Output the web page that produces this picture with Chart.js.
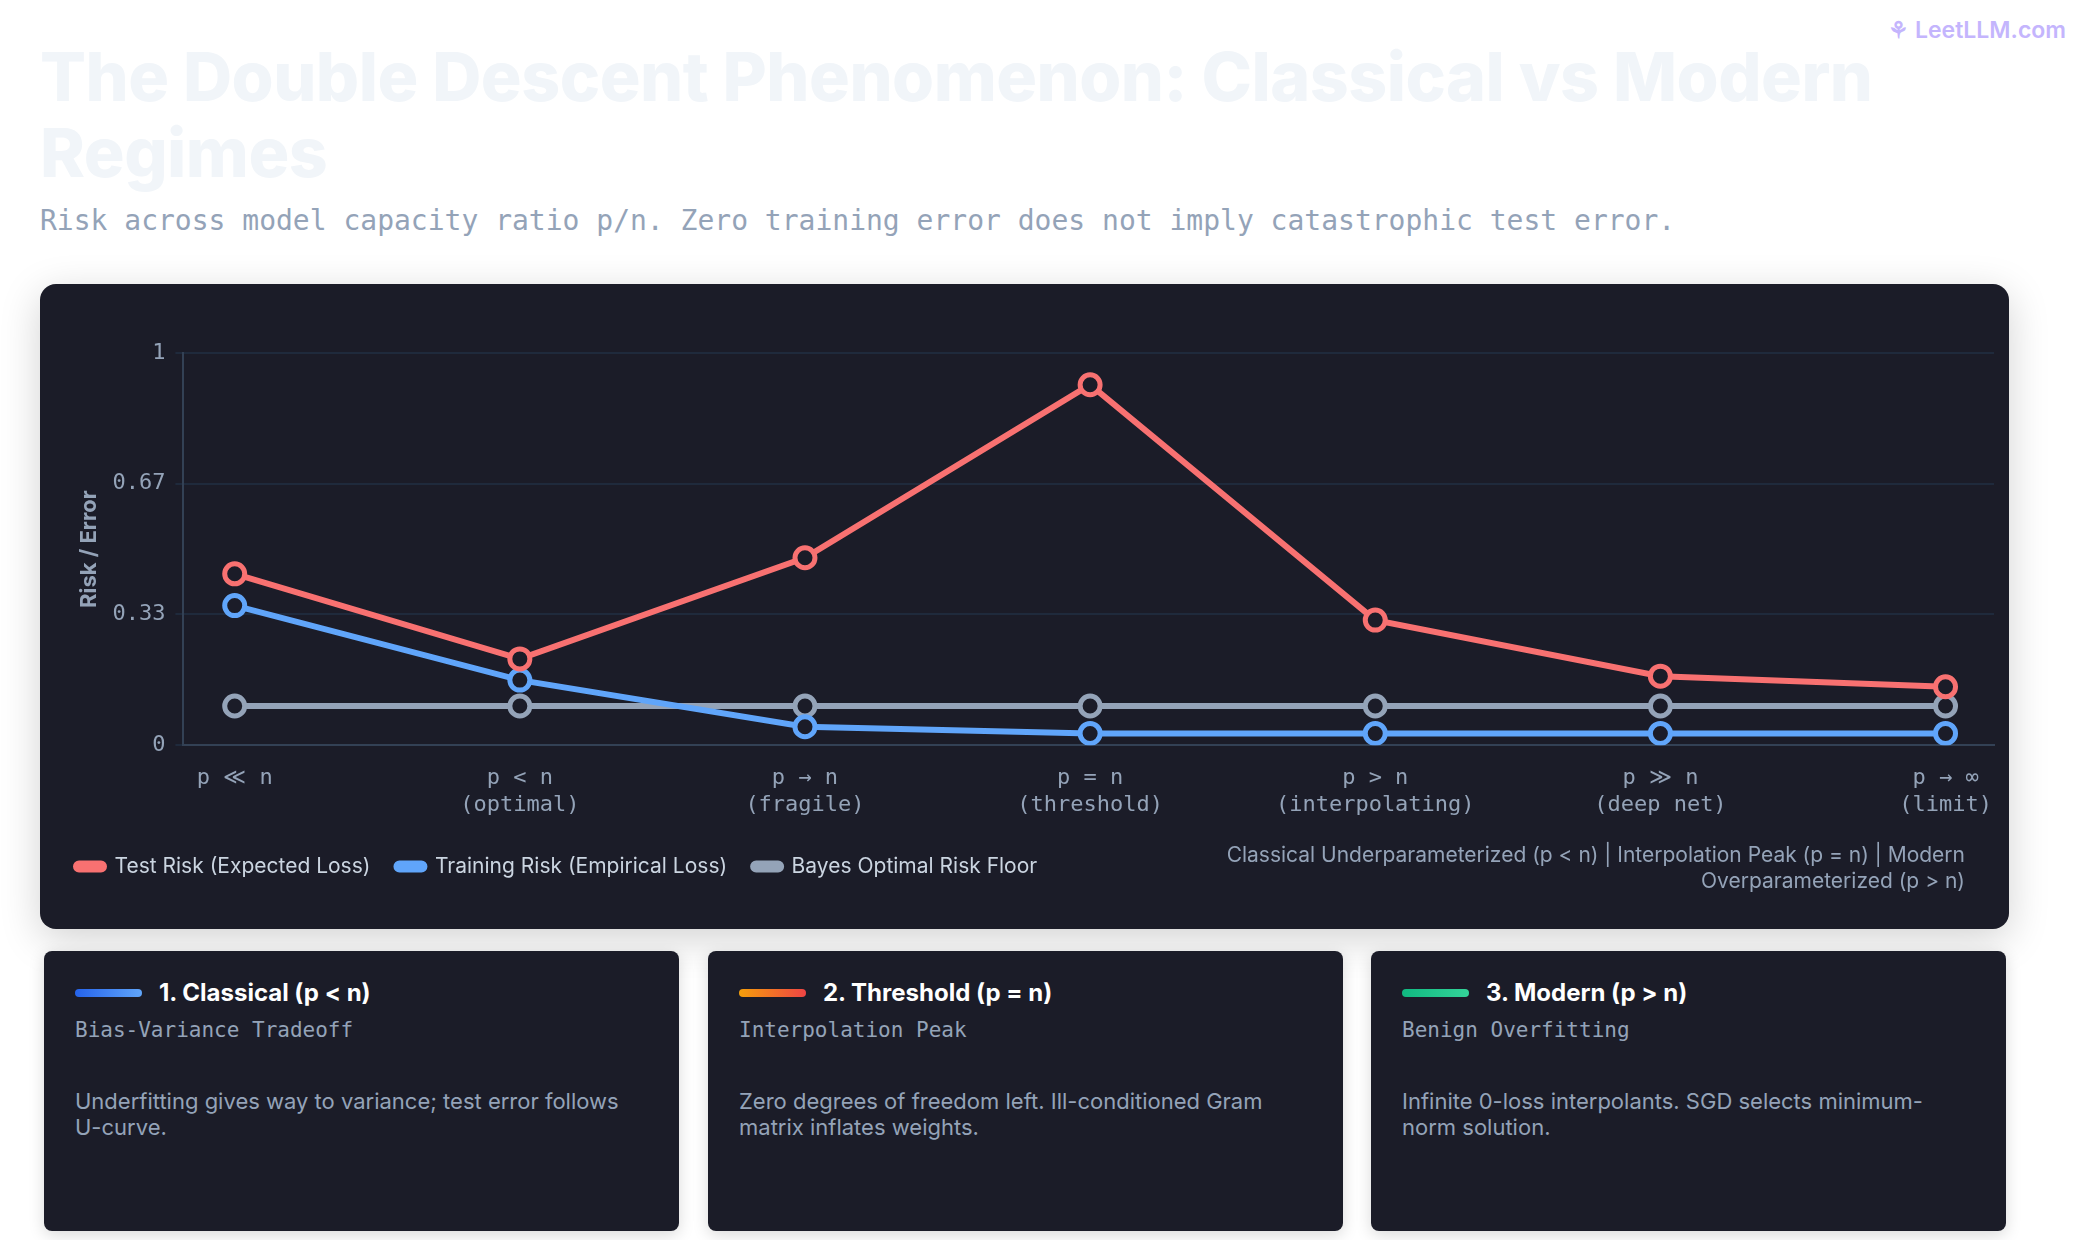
<!DOCTYPE html>
<html>
<head>
<meta charset="utf-8">
<script src="https://cdn.jsdelivr.net/npm/chart.js@4"></script>
<style>
  body { margin: 0; background: #fff; font-family: Inter, sans-serif; width: 2080px; height: 1240px; position: relative; overflow: hidden; }
  .brand { position: absolute; right: 14px; top: 16px; color: #c4b5fd; font-size: 23px; font-weight: 600; }
  h1 { position: absolute; left: 40px; top: 38px; margin: 0; width: 1960px; font-size: 68px; line-height: 76px; font-weight: 800; color: #f1f5f9; letter-spacing: -0.5px; }
  .sub { position: absolute; left: 40px; top: 204px; font-family: "DejaVu Sans Mono", monospace; font-size: 28px; color: #94a3b8; }
  .card { position: absolute; left: 40px; top: 284px; width: 1969px; height: 645px; background: #1b1c28; border-radius: 16px; box-shadow: 0 10px 40px rgba(0,0,0,0.18); }
  .chartbox { position: absolute; left: 0; top: 0; width: 1969px; height: 645px; }
  .regimes { position: absolute; right: 44px; top: 558px; width: 860px; text-align: right; color: #94a3b8; font-size: 21px; line-height: 26px; }
  .panel { position: absolute; top: 951px; width: 635px; height: 280px; background: #1b1c28; border-radius: 8px; box-shadow: 0 4px 16px rgba(0,0,0,0.15); }
  .ph { position: absolute; left: 31px; top: 27px; display: flex; align-items: center; color: #fff; font-weight: 700; font-size: 24px; }
  .bar { width: 67px; height: 8px; border-radius: 4px; margin-right: 17px; }
  .ps { position: absolute; left: 31px; top: 67px; font-family: "DejaVu Sans Mono", monospace; font-size: 21px; color: #94a3b8; }
  .pd { position: absolute; left: 31px; top: 137px; width: 560px; font-size: 22px; line-height: 26px; color: #94a3b8; }
</style>
</head>
<body>
<div class="brand">⚘ LeetLLM.com</div>
<h1>The Double Descent Phenomenon: Classical vs Modern Regimes</h1>
<div class="sub">Risk across model capacity ratio p/n. Zero training error does not imply catastrophic test error.</div>
<div class="card">
  <div class="chartbox"><canvas id="chart"></canvas></div>
  <div class="regimes">Classical Underparameterized (p &lt; n) | Interpolation Peak (p = n) | Modern Overparameterized (p &gt; n)</div>
</div>
<div class="panel" style="left:44px">
  <div class="ph"><div class="bar" style="background:linear-gradient(90deg,#2563eb,#60a5fa)"></div>1. Classical (p &lt; n)</div>
  <div class="ps">Bias-Variance Tradeoff</div>
  <div class="pd">Underfitting gives way to variance; test error follows <span style="white-space:nowrap">U-curve.</span></div>
</div>
<div class="panel" style="left:708px">
  <div class="ph"><div class="bar" style="background:linear-gradient(90deg,#f59e0b,#ef4444)"></div>2. Threshold (p = n)</div>
  <div class="ps">Interpolation Peak</div>
  <div class="pd">Zero degrees of freedom left. Ill-conditioned Gram matrix inflates weights.</div>
</div>
<div class="panel" style="left:1371px">
  <div class="ph"><div class="bar" style="background:linear-gradient(90deg,#10b981,#34d399)"></div>3. Modern (p &gt; n)</div>
  <div class="ps">Benign Overfitting</div>
  <div class="pd">Infinite 0-loss interpolants. SGD selects minimum-norm solution.</div>
</div>
<script>
const categories = [
  ["p ≪ n"],
  ["p < n", "(optimal)"],
  ["p → n", "(fragile)"],
  ["p = n", "(threshold)"],
  ["p > n", "(interpolating)"],
  ["p ≫ n", "(deep net)"],
  ["p → ∞", "(limit)"],
];
const testRisk = [0.437, 0.22, 0.478, 0.919, 0.319, 0.176, 0.149];
const trainRisk = [0.356, 0.166, 0.047, 0.03, 0.03, 0.03, 0.03];
const bayesRisk = [0.1, 0.1, 0.1, 0.1, 0.1, 0.1, 0.1];
const yTicks = [0, 1 / 3, 2 / 3, 1];

const mono = "'DejaVu Sans Mono', monospace";
const bg = "#1b1c28";

function series(label, values, color) {
  return {
    label: label,
    data: values.map((v, i) => ({ x: i, y: v })),
    borderColor: color,
    backgroundColor: color,
    pointBackgroundColor: bg,
    pointBorderColor: color,
    pointBorderWidth: 5,
    pointRadius: 10,
    borderWidth: 6,
    tension: 0,
  };
}

new Chart(document.getElementById("chart"), {
  type: "line",
  data: {
    datasets: [
      series("Test Risk (Expected Loss)", testRisk, "#f87171"),
      series("Training Risk (Empirical Loss)", trainRisk, "#60a5fa"),
      series("Bayes Optimal Risk Floor", bayesRisk, "#94a3b8"),
    ],
  },
  options: {
    responsive: true,
    maintainAspectRatio: false,
    animation: false,
    layout: { padding: { top: 69, left: 10, right: 8, bottom: 42 } },
    plugins: {
      legend: {
        position: "bottom",
        align: "start",
        labels: {
          color: "#cbd5e1",
          font: { family: "Inter", size: 21 },
          boxWidth: 28,
          boxHeight: 6,
          useBorderRadius: true,
          borderRadius: 3,
          padding: 26,
        },
      },
      tooltip: { enabled: false },
    },
    scales: {
      x: {
        type: "linear",
        min: -0.18,
        max: 6.17,
        afterBuildTicks: (axis) => { axis.ticks = categories.map((_, i) => ({ value: i })); },
        grid: { display: false },
        border: { color: "#334155", width: 2 },
        ticks: {
          color: "#94a3b8",
          font: { family: mono, size: 22 },
          maxRotation: 0,
          padding: 12,
          callback: (v) => categories[v],
        },
      },
      y: {
        min: 0,
        max: 1,
        afterBuildTicks: (axis) => { axis.ticks = yTicks.map((v) => ({ value: v })); },
        grid: { color: "#1f2a3c", lineWidth: 2 },
        border: { color: "#334155", width: 2 },
        title: { display: true, text: "Risk / Error", color: "#94a3b8", padding: { top: 26, bottom: 0 }, font: { family: "Inter", size: 22, weight: "bold" } },
        ticks: {
          color: "#94a3b8",
          padding: 10,
          font: { family: mono, size: 22 },
          callback: (v) => (v === 0 || v === 1 ? String(v) : v.toFixed(2)),
        },
      },
    },
  },
});
</script>
</body>
</html>
